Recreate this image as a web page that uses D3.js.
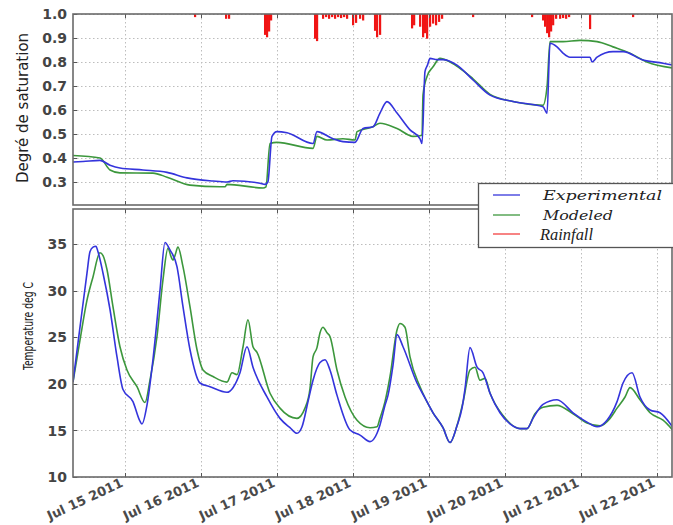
<!DOCTYPE html>
<html>
<head>
<meta charset="utf-8">
<script src="https://cdn.jsdelivr.net/npm/d3@7"></script>
<style>
  body { margin: 0; background: #fff; }
  svg { display: block; }
</style>
</head>
<body>
<svg id="chart" width="673" height="525"></svg>
<script>
// times are days after Jul 15 2011 00:00 (UTC)
var satExperimental = [
  [-0.684, 0.383], [-0.553, 0.385], [-0.329, 0.39], [-0.197, 0.37], [-0.066, 0.358],
  [0.237, 0.35], [0.553, 0.34], [0.816, 0.317], [1.158, 0.304], [1.342, 0.30],
  [1.421, 0.305], [1.776, 0.295], [1.842, 0.29], [1.88, 0.30], [1.934, 0.49],
  [2.0, 0.51], [2.132, 0.505], [2.474, 0.46], [2.526, 0.51], [2.737, 0.48],
  [2.868, 0.468], [3.026, 0.465], [3.132, 0.523], [3.263, 0.53], [3.355, 0.587],
  [3.447, 0.635], [3.579, 0.587], [3.75, 0.517], [3.882, 0.48], [3.908, 0.46],
  [3.947, 0.76], [3.98, 0.787], [4.013, 0.815], [4.105, 0.81], [4.184, 0.81],
  [4.368, 0.787], [4.579, 0.725], [4.803, 0.662], [5.105, 0.635], [5.5, 0.613],
  [5.553, 0.587], [5.592, 0.878], [5.684, 0.863], [5.763, 0.837], [5.855, 0.82],
  [6.118, 0.82], [6.145, 0.80], [6.211, 0.82], [6.421, 0.843], [6.553, 0.843],
  [6.816, 0.808], [7.079, 0.795], [7.211, 0.787]
];

var satModeled = [
  [-0.684, 0.41], [-0.329, 0.40], [-0.197, 0.35], [-0.066, 0.338], [0.368, 0.337],
  [0.553, 0.32], [0.855, 0.287], [1.25, 0.28], [1.316, 0.28], [1.342, 0.29],
  [1.816, 0.275], [1.855, 0.28], [1.908, 0.46], [2.0, 0.465], [2.474, 0.44],
  [2.526, 0.49], [2.658, 0.475], [2.868, 0.48], [3.026, 0.475], [3.053, 0.51],
  [3.263, 0.53], [3.355, 0.545], [3.579, 0.523], [3.789, 0.49], [3.908, 0.495],
  [3.921, 0.662], [3.974, 0.74], [4.053, 0.78], [4.145, 0.815], [4.276, 0.80],
  [4.579, 0.73], [4.803, 0.665], [5.105, 0.635], [5.5, 0.62], [5.553, 0.697],
  [5.592, 0.885], [5.763, 0.885], [5.987, 0.89], [6.211, 0.885], [6.421, 0.863],
  [6.645, 0.837], [6.868, 0.80], [7.211, 0.775]
];

// rainfall, drawn hanging down from 1.0 (depth in saturation units)
var rainfall = [
  [0.921, 0.013], [1.329, 0.02], [1.368, 0.02], [1.842, 0.087], [1.868, 0.097],
  [1.895, 0.073], [1.921, 0.027], [2.5, 0.103], [2.526, 0.113], [2.605, 0.02],
  [2.645, 0.013], [2.684, 0.02], [2.724, 0.013], [2.763, 0.02], [2.803, 0.013],
  [2.842, 0.017], [2.882, 0.013], [2.921, 0.02], [3.0, 0.047], [3.039, 0.037],
  [3.092, 0.02], [3.132, 0.027], [3.289, 0.07], [3.316, 0.097], [3.355, 0.087],
  [3.776, 0.06], [3.803, 0.047], [3.882, 0.053], [3.921, 0.097], [3.947, 0.08],
  [3.974, 0.103], [4.013, 0.053], [4.053, 0.04], [4.092, 0.047], [4.132, 0.033],
  [4.171, 0.02], [4.579, 0.013], [5.355, 0.013], [5.5, 0.027], [5.526, 0.053],
  [5.553, 0.08], [5.579, 0.097], [5.605, 0.073], [5.632, 0.047], [5.671, 0.02],
  [5.724, 0.02], [5.763, 0.017], [5.803, 0.02], [5.842, 0.013], [6.118, 0.063],
  [6.684, 0.013]
];

var tempExperimental = [
  [-0.684, 20.2], [-0.592, 26.1], [-0.5, 31.9], [-0.461, 34.2], [-0.421, 34.7],
  [-0.382, 34.8], [-0.355, 34.2], [-0.289, 31.9], [-0.197, 28.0], [-0.105, 22.9],
  [-0.026, 19.4], [0.105, 18.1], [0.197, 16.0], [0.224, 15.7], [0.289, 17.7],
  [0.368, 22.6], [0.461, 30.1], [0.526, 35.2], [0.592, 34.4], [0.684, 32.6],
  [0.763, 28.3], [0.855, 23.7], [0.987, 20.1], [1.118, 19.7], [1.342, 19.1],
  [1.421, 19.6], [1.513, 21.2], [1.605, 24.0], [1.684, 21.8], [1.868, 18.6],
  [2.039, 16.3], [2.171, 15.3], [2.263, 14.7], [2.329, 15.4], [2.408, 18.1],
  [2.474, 20.4], [2.566, 22.3], [2.632, 22.6], [2.697, 21.5], [2.789, 18.8],
  [2.961, 15.05], [3.092, 14.5], [3.224, 13.8], [3.316, 14.7], [3.355, 15.6],
  [3.421, 17.7], [3.461, 18.8], [3.526, 22.0], [3.579, 25.3], [3.658, 24.0],
  [3.842, 20.1], [3.947, 18.5], [4.053, 16.9], [4.184, 15.3], [4.276, 13.7],
  [4.368, 15.5], [4.434, 17.4], [4.474, 19.5], [4.539, 23.9], [4.632, 21.8],
  [4.711, 21.2], [4.803, 19.0], [4.934, 16.9], [5.066, 15.7], [5.197, 15.2],
  [5.289, 15.2], [5.368, 16.3], [5.5, 17.8], [5.684, 18.3], [5.895, 16.9],
  [6.079, 15.9], [6.211, 15.4], [6.342, 16.1], [6.474, 18.1], [6.553, 20.1],
  [6.671, 21.2], [6.776, 18.6], [6.908, 17.2], [7.039, 16.9], [7.211, 15.3]
];

var tempModeled = [
  [-0.684, 20.2], [-0.592, 24.7], [-0.5, 29.0], [-0.421, 31.5], [-0.329, 34.1],
  [-0.289, 33.8], [-0.237, 32.3], [-0.158, 28.3], [-0.066, 24.0], [0.026, 21.5],
  [0.158, 19.7], [0.263, 18.0], [0.329, 20.4], [0.421, 25.1], [0.5, 31.2],
  [0.566, 34.6], [0.605, 33.7], [0.632, 33.3], [0.658, 33.8], [0.697, 34.7],
  [0.763, 32.6], [0.855, 28.3], [0.947, 23.7], [1.026, 21.5], [1.158, 20.8],
  [1.342, 20.2], [1.408, 21.2], [1.474, 21.0], [1.553, 24.0], [1.618, 26.9],
  [1.684, 24.0], [1.737, 23.4], [1.908, 19.0], [2.039, 17.4], [2.263, 16.3],
  [2.368, 17.4], [2.434, 19.5], [2.474, 22.9], [2.526, 23.9], [2.566, 25.5],
  [2.605, 26.1], [2.658, 25.5], [2.697, 25.1], [2.789, 21.5], [2.895, 18.6],
  [3.053, 16.1], [3.224, 15.3], [3.316, 15.4], [3.355, 16.3], [3.421, 18.1],
  [3.487, 20.8], [3.579, 25.8], [3.618, 26.5], [3.684, 26.1], [3.75, 22.9],
  [3.882, 19.7], [4.053, 16.9], [4.184, 15.3], [4.276, 13.7], [4.368, 15.5],
  [4.447, 18.0], [4.539, 21.5], [4.605, 21.8], [4.671, 20.4], [4.737, 20.6],
  [4.803, 19.0], [4.974, 16.6], [5.197, 15.2], [5.289, 15.2], [5.395, 16.8],
  [5.5, 17.5], [5.684, 17.7], [5.895, 16.8], [6.079, 15.8], [6.25, 15.5],
  [6.382, 16.3], [6.474, 17.4], [6.579, 18.6], [6.645, 19.6], [6.776, 18.3],
  [6.908, 16.9], [7.079, 16.1], [7.211, 15.0]
];

var satTicks = [0.3, 0.4, 0.5, 0.6, 0.7, 0.8, 0.9, 1.0];
var tempTicks = [10, 15, 20, 25, 30, 35];
var legendLabels = ["Experimental", "Modeled", "Rainfall"];

var colors = { exp: "#3434dc", mod: "#3c973c", rain: "#f01414" };

var base = Date.UTC(2011, 6, 15);
function toDate(d) { return new Date(base + d * 86400000); }

var left = 73, right = 672;
var top1 = 14, bottom1 = 205, top2 = 209, bottom2 = 477;

var svg = d3.select("#chart");

var x = d3.scaleUtc()
    .domain([toDate(-0.684), toDate(7.197)])
    .range([left, right]);
var xTicks = d3.utcDay.range(toDate(0), toDate(7.5));

var ySat = d3.scaleLinear().domain([0.204, 1.0]).range([bottom1, top1]);
var yTemp = d3.scaleLinear().domain([10, 38.8]).range([bottom2, top2]);

var defs = svg.append("defs");
defs.append("clipPath").attr("id", "clip1")
  .append("rect").attr("x", left).attr("y", top1).attr("width", right - left).attr("height", bottom1 - top1);
defs.append("clipPath").attr("id", "clip2")
  .append("rect").attr("x", left).attr("y", top2).attr("width", right - left).attr("height", bottom2 - top2);

function grid(yScale, yTicks, y0, y1) {
  var g = svg.append("g").attr("stroke", "#bdbdbd").attr("stroke-width", 1)
      .attr("stroke-dasharray", "1.5,2.5");
  g.selectAll(".gx").data(xTicks).enter().append("line")
    .attr("x1", d => Math.round(x(d)) + 0.5).attr("x2", d => Math.round(x(d)) + 0.5)
    .attr("y1", y0).attr("y2", y1);
  g.selectAll(".gy").data(yTicks).enter().append("line")
    .attr("x1", left).attr("x2", right)
    .attr("y1", d => Math.round(yScale(d)) + 0.5).attr("y2", d => Math.round(yScale(d)) + 0.5);
}

function frame(yScale, yTicks, y0, y1, fmt) {
  var g = svg.append("g");
  // inside ticks
  g.selectAll(".tb").data(xTicks).enter().append("line")
    .attr("x1", d => Math.round(x(d)) + 0.5).attr("x2", d => Math.round(x(d)) + 0.5)
    .attr("y1", y1).attr("y2", y1 - 4).attr("stroke", "#555");
  g.selectAll(".tt").data(xTicks).enter().append("line")
    .attr("x1", d => Math.round(x(d)) + 0.5).attr("x2", d => Math.round(x(d)) + 0.5)
    .attr("y1", y0).attr("y2", y0 + 4).attr("stroke", "#555");
  g.selectAll(".tl").data(yTicks).enter().append("line")
    .attr("x1", left).attr("x2", left + 4)
    .attr("y1", d => Math.round(yScale(d)) + 0.5).attr("y2", d => Math.round(yScale(d)) + 0.5)
    .attr("stroke", "#555");
  g.append("rect")
    .attr("x", left).attr("y", y0).attr("width", right - left).attr("height", y1 - y0)
    .attr("fill", "none").attr("stroke", "#6a6a6a").attr("stroke-width", 1.6);
  g.selectAll(".lab").data(yTicks).enter().append("text")
    .attr("x", left - 6).attr("y", d => yScale(d))
    .attr("dy", "0.36em")
    .attr("text-anchor", "end")
    .attr("font-family", "DejaVu Sans")
    .attr("font-weight", "bold")
    .attr("font-size", 14)
    .attr("fill", "#444")
    .text(fmt);
}

grid(ySat, satTicks, top1, bottom1);
grid(yTemp, tempTicks, top2, bottom2);

var line = function (yScale) {
  return d3.line().curve(d3.curveMonotoneX)
    .x(d => x(toDate(d[0]))).y(d => yScale(d[1]));
};

var p1 = svg.append("g").attr("clip-path", "url(#clip1)");
p1.selectAll(".rain").data(rainfall).enter().append("rect")
  .attr("x", d => x(toDate(d[0])) - 1)
  .attr("y", ySat(1.0))
  .attr("width", 2.2)
  .attr("height", d => ySat(1.0 - d[1]) - ySat(1.0))
  .attr("fill", colors.rain);
p1.append("path").datum(satModeled)
  .attr("d", line(ySat)).attr("fill", "none")
  .attr("stroke", colors.mod).attr("stroke-width", 1.6);
p1.append("path").datum(satExperimental)
  .attr("d", line(ySat)).attr("fill", "none")
  .attr("stroke", colors.exp).attr("stroke-width", 1.6);

var p2 = svg.append("g").attr("clip-path", "url(#clip2)");
p2.append("path").datum(tempModeled)
  .attr("d", line(yTemp)).attr("fill", "none")
  .attr("stroke", colors.mod).attr("stroke-width", 1.6);
p2.append("path").datum(tempExperimental)
  .attr("d", line(yTemp)).attr("fill", "none")
  .attr("stroke", colors.exp).attr("stroke-width", 1.6);

frame(ySat, satTicks, top1, bottom1, d3.format(".1f"));
frame(yTemp, tempTicks, top2, bottom2, d3.format("d"));

// x tick labels
var fmtDate = d3.utcFormat("%b %d %Y");
svg.append("g").selectAll("text").data(xTicks).enter().append("text")
  .attr("transform", d => "translate(" + (x(d) - 1) + "," + (bottom2 + 9) + ") rotate(-25)")
  .attr("text-anchor", "end")
  .attr("font-family", "DejaVu Sans")
  .attr("font-weight", "bold")
  .attr("font-size", 13)
  .attr("fill", "#4a4a4a")
  .text(fmtDate);

// axis titles
svg.append("text")
  .attr("transform", "translate(28,108) rotate(-90)")
  .attr("text-anchor", "middle")
  .attr("font-family", "DejaVu Sans")
  .attr("font-size", 15)
  .attr("fill", "#222")
  .text("Degré de saturation");

svg.append("text")
  .attr("transform", "translate(33,326) rotate(-90)")
  .attr("text-anchor", "middle")
  .attr("font-family", "Liberation Sans Narrow, DejaVu Sans Condensed, sans-serif")
  .attr("font-stretch", "condensed")
  .attr("font-size", 13.5)
  .attr("textLength", 88)
  .attr("lengthAdjust", "spacingAndGlyphs")
  .attr("fill", "#222")
  .text("Temperature deg C");

// legend
var legend = svg.append("g");
legend.append("rect")
  .attr("x", 478.5).attr("y", 183.5).attr("width", 200).attr("height", 64)
  .attr("fill", "#fff").attr("stroke", "#555").attr("stroke-width", 1.3);
var legendColors = [colors.exp, colors.mod, colors.rain];
var legendY = [195, 215, 234];
var legendFonts = [
  { family: "DejaVu Serif", size: 13, len: 119, x: 543 },
  { family: "DejaVu Serif", size: 13, len: 70, x: 543 },
  { family: "Liberation Serif", size: 16, len: 53, x: 540 }
];
legendLabels.forEach(function (lab, i) {
  legend.append("line")
    .attr("x1", 493).attr("x2", 520)
    .attr("y1", legendY[i]).attr("y2", legendY[i])
    .attr("stroke", legendColors[i]).attr("stroke-width", 1.5)
    .attr("opacity", i === 2 ? 0.7 : 0.85);
  legend.append("text")
    .attr("x", legendFonts[i].x).attr("y", legendY[i])
    .attr("dy", "0.35em")
    .attr("font-family", legendFonts[i].family)
    .attr("font-style", "italic")
    .attr("font-size", legendFonts[i].size)
    .attr("textLength", legendFonts[i].len)
    .attr("lengthAdjust", "spacingAndGlyphs")
    .attr("fill", "#222")
    .text(lab);
});
</script>
</body>
</html>
